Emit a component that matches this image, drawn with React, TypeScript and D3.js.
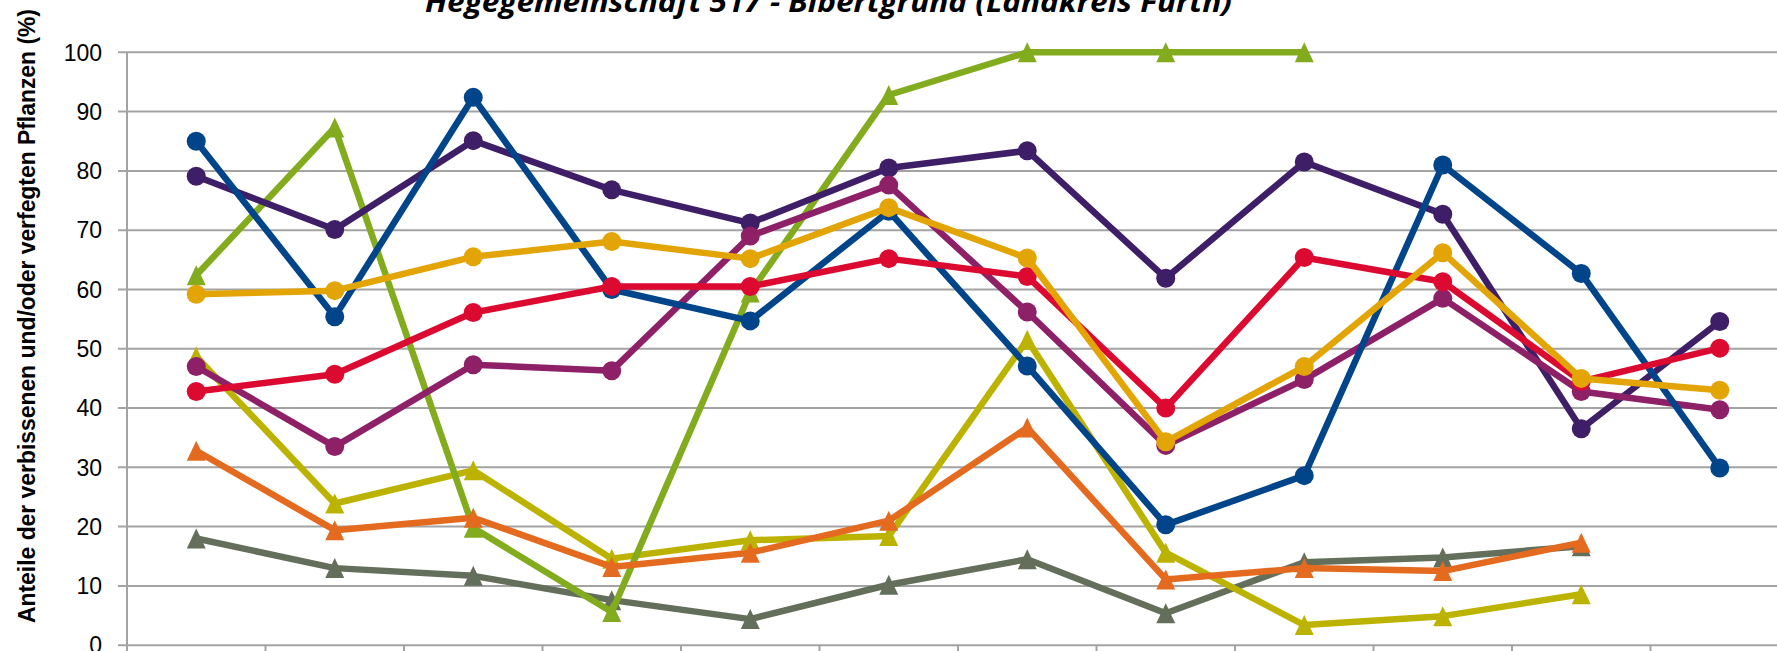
import React from "react";
import * as d3 from "d3";

const categories = ["1991", "1994", "1997", "2000", "2003", "2006", "2009", "2012", "2015", "2018", "2021", "2024"];
const yTicks = [0, 10, 20, 30, 40, 50, 60, 70, 80, 90, 100];

const seriesBlue = [85.0, 55.4, 92.4, 60.0, 54.7, 73.2, 47.1, 20.3, 28.6, 81.0, 62.7, 29.9];
const seriesPurple = [79.1, 70.1, 85.1, 76.8, 71.2, 80.5, 83.4, 61.9, 81.5, 72.7, 36.5, 54.6];
const seriesMagenta = [47.0, 33.5, 47.3, 46.3, 69.0, 77.6, 56.2, 33.7, 44.8, 58.5, 42.8, 39.7];
const seriesRed = [42.8, 45.7, 56.1, 60.5, 60.5, 65.2, 62.2, 40.0, 65.4, 61.3, 44.5, 50.1];
const seriesGold = [59.2, 59.8, 65.5, 68.1, 65.2, 73.8, 65.3, 34.3, 47.0, 66.2, 45.0, 43.0];
const seriesGreen = [62.4, 87.3, 19.8, 5.6, 59.5, 92.8, 100, 100, 100, null, null, null];
const seriesOlive = [48.7, 23.9, 29.5, 14.6, 17.7, 18.4, 51.5, 15.6, 3.4, 4.9, 8.6, null];
const seriesOrange = [32.8, 19.4, 21.5, 13.2, 15.6, 21.0, 36.7, 11.1, 13.0, 12.5, 17.3, null];
const seriesGray = [18.0, 13.0, 11.7, 7.6, 4.4, 10.2, 14.5, 5.4, 14.0, 14.8, 16.7, null];

type Series = { values: (number | null)[]; color: string; marker: "circle" | "triangle" };

// drawing order: triangles below, circles above
const seriesList: Series[] = [
  { values: seriesGray, color: "#636e5b", marker: "triangle" },
  { values: seriesOlive, color: "#bcb300", marker: "triangle" },
  { values: seriesGreen, color: "#82ab1e", marker: "triangle" },
  { values: seriesOrange, color: "#e46a1f", marker: "triangle" },
  { values: seriesPurple, color: "#3f1e68", marker: "circle" },
  { values: seriesMagenta, color: "#8e2068", marker: "circle" },
  { values: seriesBlue, color: "#00448a", marker: "circle" },
  { values: seriesRed, color: "#dc0a30", marker: "circle" },
  { values: seriesGold, color: "#e3a505", marker: "circle" },
];

const W = 1777;
const H = 651;
const plotLeft = 127;
const band = 138.5;

export default function App() {
  const x = d3
    .scaleBand<string>()
    .domain(categories)
    .range([plotLeft, plotLeft + band * categories.length])
    .padding(0);
  const y = d3.scaleLinear().domain([0, 100]).range([645.2, 52.3]);
  const cx = (c: string) => (x(c) as number) + x.bandwidth() / 2;

  const gridColor = "#a3a3a3";

  const line = d3
    .line<number | null>()
    .defined((d) => d !== null)
    .x((_, i) => cx(categories[i]))
    .y((d) => y(d as number));

  const tri = (px: number, py: number) => {
    const hw = 9.5;
    const hh = 10;
    return `M${px},${py - hh}L${px + hw},${py + hh}L${px - hw},${py + hh}Z`;
  };

  return (
    <svg
      width={W}
      height={H}
      style={{ position: "absolute", left: 0, top: 0, background: "#ffffff" }}
    >
      <rect x={0} y={0} width={W} height={H} fill="#ffffff" />
      {/* gridlines */}
      {yTicks.map((t) => (
        <line key={t} x1={plotLeft - 9} x2={W} y1={y(t)} y2={y(t)} stroke={gridColor} strokeWidth={2} />
      ))}
      {/* y axis line */}
      <line x1={plotLeft} x2={plotLeft} y1={y(100)} y2={H} stroke={gridColor} strokeWidth={2} />
      {/* x category ticks */}
      {categories.map((c) => (
        <line key={c} x1={x(c) as number} x2={x(c) as number} y1={y(0)} y2={H} stroke={gridColor} strokeWidth={2} />
      ))}
      {/* y tick labels */}
      {yTicks.map((t) => (
        <text
          key={t}
          x={102}
          y={y(t)}
          dy="0.36em"
          textAnchor="end"
          fontFamily="'Liberation Sans Narrow', 'Liberation Sans', Arial, sans-serif"
          fontSize={23}
          fill="#000"
        >
          {t}
        </text>
      ))}
      {/* y axis title */}
      <text
        transform={`translate(35, 316) rotate(-90)`}
        textAnchor="middle"
        fontFamily="'Liberation Sans Narrow', 'Liberation Sans', sans-serif"
        fontWeight="bold"
        fontSize={23}
        textLength={614}
        lengthAdjust="spacingAndGlyphs"
        fill="#000"
      >
        Anteile der verbissenen und/oder verfegten Pflanzen (%)
      </text>
      {/* chart title (partly cut at the top) */}
      <text
        x={828.5}
        y={12}
        textAnchor="middle"
        fontFamily="'Open Sans', sans-serif"
        fontWeight="bold"
        fontStyle="italic"
        fontSize={28}
        textLength={807}
        lengthAdjust="spacingAndGlyphs"
        fill="#000"
      >
        Hegegemeinschaft 517 - Bibertgrund (Landkreis Fürth)
      </text>
      {/* series */}
      {seriesList.map((s, si) => (
        <g key={si}>
          <path d={line(s.values) || ""} fill="none" stroke={s.color} strokeWidth={6.5} strokeLinejoin="round" />
          {s.values.map((v, i) =>
            v === null ? null : s.marker === "circle" ? (
              <circle key={i} cx={cx(categories[i])} cy={y(v)} r={9.5} fill={s.color} />
            ) : (
              <path key={i} d={tri(cx(categories[i]), y(v))} fill={s.color} />
            )
          )}
        </g>
      ))}
    </svg>
  );
}
